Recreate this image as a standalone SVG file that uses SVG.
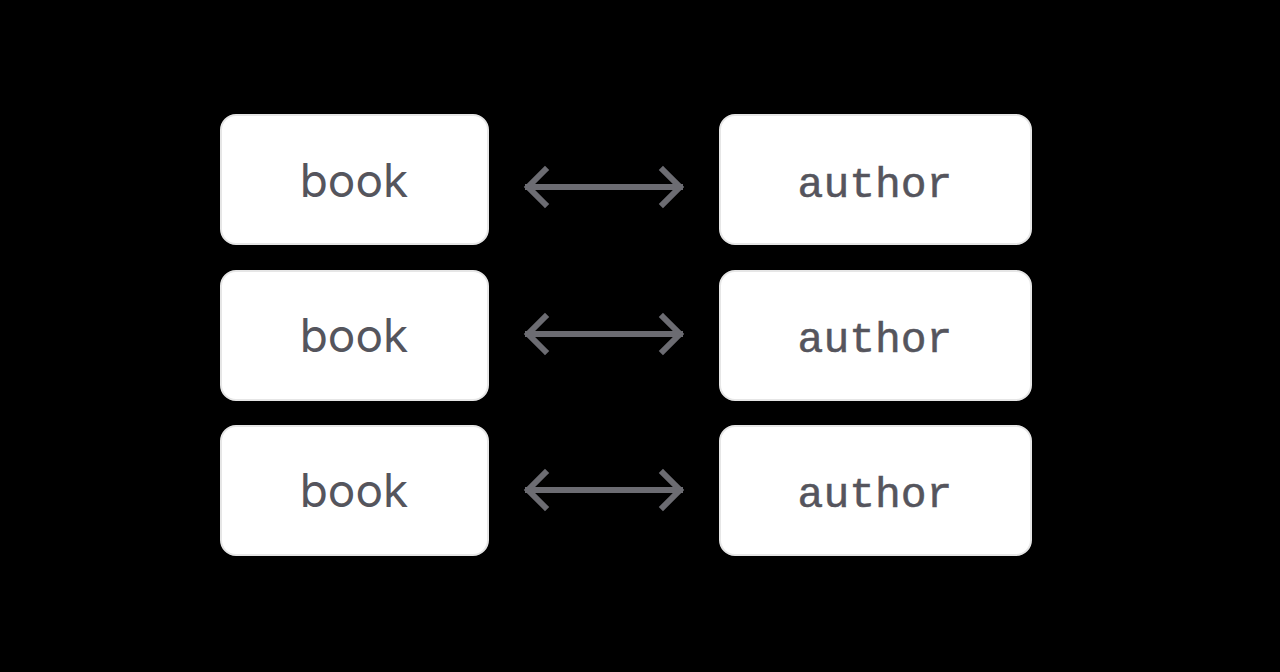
<svg xmlns="http://www.w3.org/2000/svg" width="1280" height="672" viewBox="0 0 1280 672">
<defs>
<style>
.box{fill:#ffffff;stroke:#e6e6e6;stroke-width:2}
.book{font-family:Inter,"Noto Sans",sans-serif;font-size:46px;fill:#55555d;text-anchor:middle}
.author{font-family:"Liberation Mono",monospace;font-size:43px;fill:#55555d;text-anchor:middle;stroke:#55555d;stroke-width:0.5}
.arr{fill:none;stroke:#6c6c72;stroke-width:6;stroke-linecap:square;stroke-linejoin:miter}
</style>
</defs>
<rect width="1280" height="672" fill="#000000"/>
<g id="book1"><rect class="box" x="221" y="115" width="267" height="129" rx="15"/><text class="book" x="354" y="197">book</text></g>
<g id="book2"><rect class="box" x="221" y="271" width="267" height="129" rx="15"/><text class="book" x="354" y="352">book</text></g>
<g id="book3"><rect class="box" x="221" y="426" width="267" height="129" rx="15"/><text class="book" x="354" y="507">book</text></g>
<g id="author1"><rect class="box" x="720" y="115" width="311" height="129" rx="15"/><text class="author" x="875" y="197">author</text></g>
<g id="author2"><rect class="box" x="720" y="271" width="311" height="129" rx="15"/><text class="author" x="875" y="352">author</text></g>
<g id="author3"><rect class="box" x="720" y="426" width="311" height="129" rx="15"/><text class="author" x="875" y="507">author</text></g>
<g id="connectors">
<path class="arr" d="M528 187 H680 M545 170 L528 187 L545 204 M663 170 L680 187 L663 204"/>
<path class="arr" d="M528 334 H680 M545 317 L528 334 L545 351 M663 317 L680 334 L663 351"/>
<path class="arr" d="M528 490 H680 M545 473 L528 490 L545 507 M663 473 L680 490 L663 507"/>
</g>
</svg>
